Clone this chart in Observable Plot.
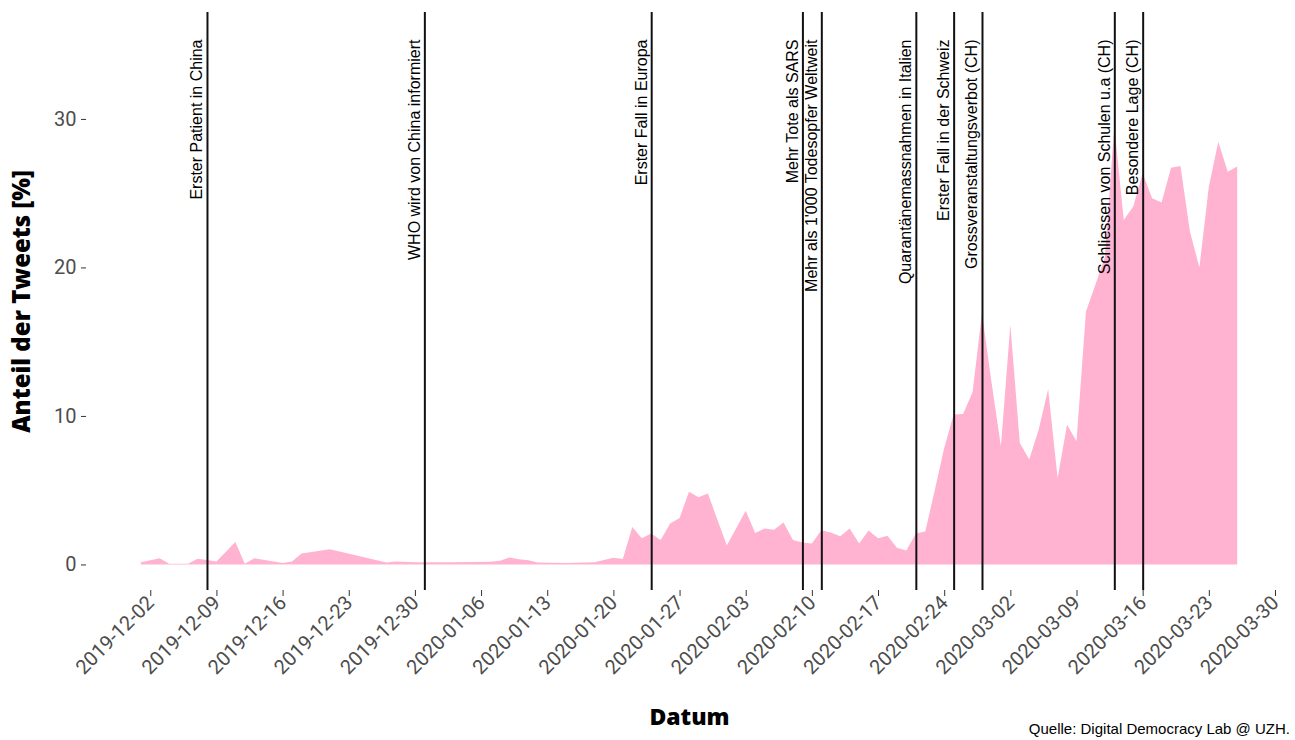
<!DOCTYPE html>
<html>
<head>
<meta charset="utf-8">
<script src="https://cdn.jsdelivr.net/npm/d3@7"></script>
<script src="https://cdn.jsdelivr.net/npm/@observablehq/plot@0.6"></script>
<style>
  html, body { margin: 0; padding: 0; background: #fff; }
  #wrap { position: relative; width: 1295px; height: 740px; }
  #caption { position: absolute; right: 5px; top: 719px; font: 15px "Liberation Sans", Arial, sans-serif; color: #000; line-height: 20px; }
</style>
</head>
<body>
<div id="wrap"><div id="chart"></div><div id="caption">Quelle: Digital Democracy Lab @ UZH.</div></div>
<script>
// ---- data ----
const dates = [
  "2019-12-01","2019-12-02","2019-12-03","2019-12-04","2019-12-05","2019-12-06","2019-12-07","2019-12-08","2019-12-09",
  "2019-12-11","2019-12-12","2019-12-13","2019-12-16","2019-12-17","2019-12-18","2019-12-21","2019-12-27","2019-12-28",
  "2019-12-30","2020-01-03","2020-01-07","2020-01-08","2020-01-09","2020-01-10","2020-01-11","2020-01-12","2020-01-15",
  "2020-01-18","2020-01-19","2020-01-20","2020-01-21","2020-01-22","2020-01-23","2020-01-24","2020-01-25","2020-01-26",
  "2020-01-27","2020-01-28","2020-01-29","2020-01-30","2020-02-01","2020-02-03","2020-02-04","2020-02-05","2020-02-06",
  "2020-02-07","2020-02-08","2020-02-09","2020-02-10","2020-02-11","2020-02-12","2020-02-13","2020-02-14","2020-02-15",
  "2020-02-16","2020-02-17","2020-02-18","2020-02-19","2020-02-20","2020-02-21","2020-02-22","2020-02-23","2020-02-24",
  "2020-02-25","2020-02-26","2020-02-27","2020-02-28","2020-02-29","2020-03-01","2020-03-02","2020-03-03","2020-03-04",
  "2020-03-05","2020-03-06","2020-03-07","2020-03-08","2020-03-09","2020-03-10","2020-03-11","2020-03-12","2020-03-13",
  "2020-03-14","2020-03-15","2020-03-16","2020-03-17","2020-03-18","2020-03-19","2020-03-20","2020-03-21","2020-03-22",
  "2020-03-23","2020-03-24","2020-03-25","2020-03-26"
];
const shares = [
  0.15,0.28,0.42,0.05,0.05,0.05,0.38,0.30,0.20,
  1.52,0.05,0.42,0.10,0.20,0.74,1.03,0.13,0.20,
  0.15,0.15,0.18,0.25,0.47,0.35,0.28,0.13,0.10,
  0.15,0.30,0.45,0.36,2.53,1.77,2.08,1.64,2.76,
  3.12,4.89,4.53,4.77,1.28,3.61,2.11,2.42,2.33,
  2.82,1.64,1.48,1.41,2.31,2.15,1.90,2.42,1.41,
  2.29,1.77,1.93,1.12,0.94,2.08,2.22,5.00,7.85,
  10.09,10.13,11.59,16.92,12.30,7.96,16.14,8.18,7.06,
  9.08,11.81,5.83,9.41,8.29,17.03,18.85,20.67,29.50,
  23.20,24.10,26.34,24.66,24.37,26.72,26.83,22.42,20.00,
  25.44,28.47,26.45,26.79
];
const eventDates = [
  "2019-12-08","2019-12-31","2020-01-24","2020-02-09","2020-02-11",
  "2020-02-21","2020-02-25","2020-02-28","2020-03-13","2020-03-16"
];
const eventLabels = [
  "Erster Patient in China",
  "WHO wird von China informiert",
  "Erster Fall in Europa",
  "Mehr Tote als SARS",
  "Mehr als 1'000 Todesopfer Weltweit",
  "Quarantänemassnahmen in Italien",
  "Erster Fall in der Schweiz",
  "Grossveranstaltungsverbot (CH)",
  "Schliessen von Schulen u.a (CH)",
  "Besondere Lage (CH)"
];
const xTicks = [
  "2019-12-02","2019-12-09","2019-12-16","2019-12-23","2019-12-30","2020-01-06","2020-01-13","2020-01-20",
  "2020-01-27","2020-02-03","2020-02-10","2020-02-17","2020-02-24","2020-03-02","2020-03-09","2020-03-16",
  "2020-03-23","2020-03-30"
];
const yTicks = [0, 10, 20, 30];
const xTitle = "Datum";
const yTitle = "Anteil der Tweets [%]";

// ---- build ----
const parse = d3.utcParse("%Y-%m-%d");
const series = dates.map((d, i) => ({date: parse(d), value: shares[i]}));
const events = eventDates.map((d, i) => ({date: parse(d), label: eventLabels[i]}));
const ticks = xTicks.map(parse);

const ext = d3.extent(series, d => d.date);
const pad = (ext[1] - ext[0]) * 0.05;
const xDomain = [new Date(+ext[0] - pad), new Date(+ext[1] + pad)];

const chart = Plot.plot({
  width: 1295,
  height: 740,
  marginLeft: 86,
  marginRight: 3,
  marginTop: 12,
  marginBottom: 150,
  style: {fontFamily: "Roboto, sans-serif", fontSize: "20px", color: "#4d4d4d", background: "#fff"},
  x: {type: "utc", domain: xDomain},
  y: {domain: [-1.72, 37.2]},
  marks: [
    Plot.areaY(series, {x: "date", y: "value", fill: "#ffb3d1", curve: "linear"}),
    Plot.ruleX(events, {x: "date", stroke: "#111", strokeWidth: 2}),
    Plot.text(events, {
      x: "date", text: "label", frameAnchor: "top", dy: 27, dx: -5,
      rotate: -90, textAnchor: "end", lineAnchor: "bottom",
      fill: "#000", fontSize: 16, fontFamily: "'Liberation Sans', Arial, sans-serif"
    }),
    Plot.axisX({
      ticks: ticks, tickFormat: d3.utcFormat("%Y-%m-%d"), tickSize: 6, tickPadding: 3,
      tickRotate: -45, label: null, stroke: "#333", fill: "#4d4d4d", fontSize: 20
    }),
    Plot.axisY({
      ticks: yTicks, tickSize: 5, tickPadding: 5, label: null, stroke: "#333", fill: "#4d4d4d", fontSize: 20
    }),
    Plot.text([xTitle], {
      text: d => d, frameAnchor: "bottom", dy: 127, lineAnchor: "middle", textAnchor: "middle",
      fill: "#000", fontSize: 23, fontWeight: 800, fontFamily: "'Open Sans', sans-serif"
    }),
    Plot.text([yTitle], {
      text: d => d, frameAnchor: "left", dx: -64, rotate: -90, lineAnchor: "middle", textAnchor: "middle",
      fill: "#000", fontSize: 24, fontWeight: 800, fontFamily: "'Open Sans', sans-serif"
    })
  ]
});
document.getElementById("chart").appendChild(chart);
</script>
</body>
</html>
